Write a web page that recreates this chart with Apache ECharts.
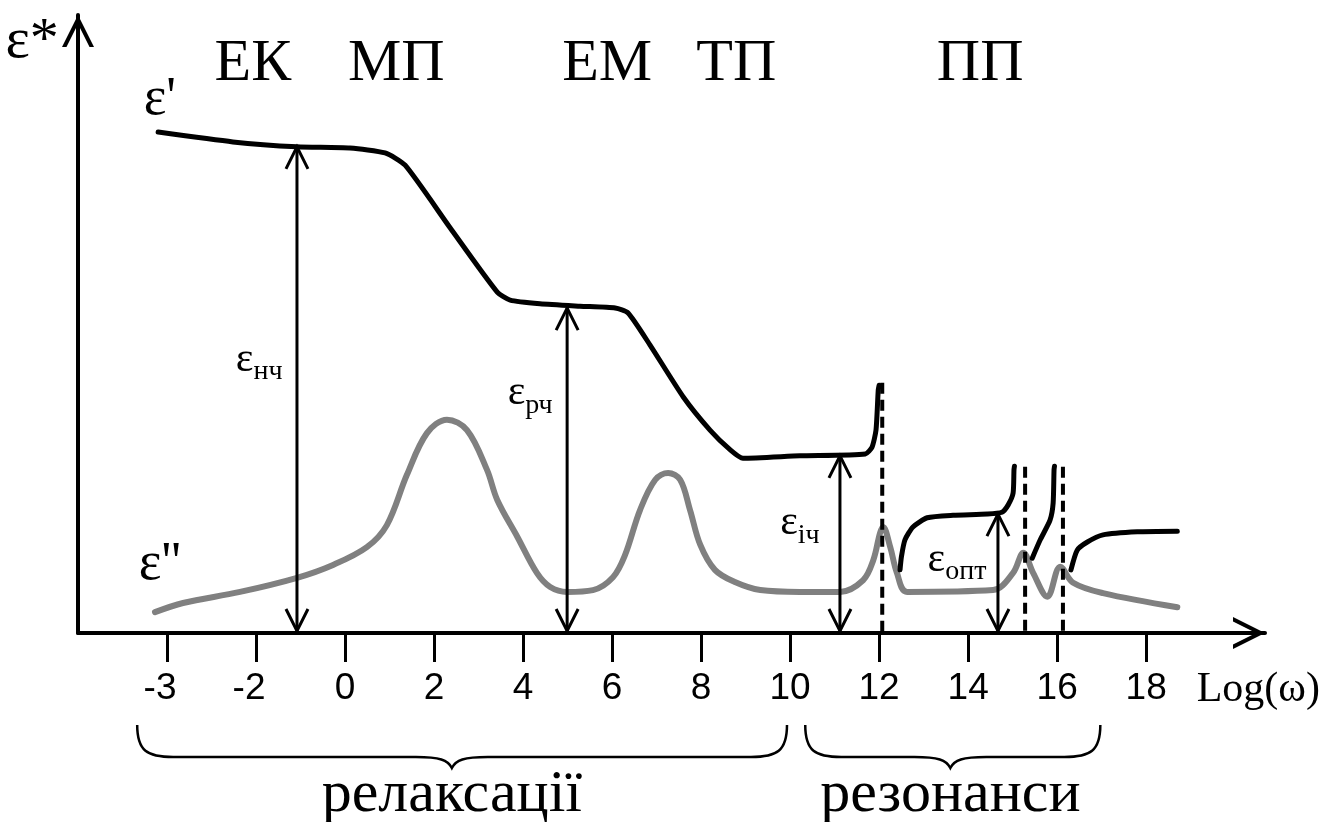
<!DOCTYPE html>
<html>
<head>
<meta charset="utf-8">
<script src="https://cdn.jsdelivr.net/npm/echarts@6/dist/echarts.min.js"></script>
<style>
  html, body { margin: 0; padding: 0; background: #fff; }
  #chart { width: 1340px; height: 822px; }
</style>
</head>
<body>
<div id="chart"></div>
<script>
// Axis ticks: positions on the Log(ω) scale and the text printed under them
const tickValues = [-4, -2, 0, 2, 4, 6, 8, 10, 12, 14, 16, 18];
const tickLabels = ['-3', '-2', '0', '2', '4', '6', '8', '10', '12', '14', '16', '18'];

// ε' (real part): relaxation steps, then the resonance branches
const epsRealMain = [
  [-4.20, 81.7], [-2.52, 80.1], [-1.08, 79.3], [0.11, 79.1], [0.90, 78.3], [1.35, 76.3],
  [2.36, 66.1], [3.42, 55.6], [3.71, 54.3], [4.38, 53.7], [5.28, 53.3], [6.07, 53.0],
  [6.36, 52.2], [6.85, 47.0], [7.60, 38.5], [8.20, 33.1], [8.65, 29.9], [8.94, 28.5],
  [10.22, 28.9], [11.69, 29.2], [11.84, 30.3], [11.93, 33.1], [11.98, 39.6], [12.00, 40.4]
];
const epsRealRes1 = [
  [12.47, 10.3], [12.50, 12.4], [12.58, 15.2], [12.76, 17.3], [13.08, 18.8], [13.66, 19.2],
  [14.43, 19.4], [14.76, 19.7], [14.90, 20.9], [15.01, 22.8], [15.03, 26.6], [15.04, 27.2]
];
const epsRealRes2 = [
  [15.44, 12.2], [15.62, 15.2], [15.84, 18.4], [15.91, 21.2], [15.93, 26.6], [15.94, 27.2]
];
const epsRealTail = [
  [16.31, 10.3], [16.45, 13.5], [16.67, 14.8], [17.03, 16.0], [17.80, 16.5], [18.70, 16.6]
];

// ε'' (imaginary part): loss peaks
const epsImag = [
  [-4.27, 3.4], [-3.64, 4.9], [-2.36, 6.7], [-1.08, 9.0], [-0.27, 11.1], [0.49, 14.0],
  [0.94, 17.6], [1.39, 25.8], [1.84, 32.6], [2.29, 34.8], [2.74, 33.1], [3.19, 26.6],
  [3.42, 21.7], [3.87, 15.7], [4.31, 9.8], [4.61, 7.5], [4.99, 6.7], [5.57, 7.0],
  [6.02, 9.1], [6.29, 12.7], [6.63, 20.1], [6.97, 25.0], [7.26, 26.1], [7.53, 25.0],
  [7.75, 20.1], [7.98, 14.4], [8.31, 10.3], [8.76, 8.3], [9.33, 7.0], [10.22, 6.7],
  [11.12, 6.7], [11.64, 8.6], [11.87, 11.9], [12.02, 16.3], [12.09, 17.3], [12.25, 14.0],
  [12.40, 9.8], [12.63, 6.7], [14.56, 7.0], [15.01, 9.8], [15.24, 13.1], [15.46, 9.8],
  [15.78, 5.9], [16.07, 10.8], [16.36, 8.2], [17.03, 6.5], [18.70, 4.2]
];

// Double-headed arrows showing ε levels (x position, level)
const arrowX = [-1.08, 4.99, 11.12, 14.67];
const arrowTop = [79.3, 53.0, 28.9, 19.4];

// Resonance frequencies (dashed verticals)
const dashX = [12.07, 15.28, 16.13];
const dashTop = [40.8, 27.1, 27.1];

// Braces grouping the ranges under the axis
const braceStart = [-4.67, 10.34];
const braceEnd = [9.93, 16.97];
const braceTip = [2.40, 13.6];
const braceLabels = ['релаксації', 'резонанси'];

// Text annotations placed in data coordinates
const annoTexts = ['ε*', "ε'", "ε''", 'ЕК', 'МП', 'ЕМ', 'ТП', 'ПП',
  '{e|ε}{s|нч}', '{e|ε}{s|рч}', '{e|ε}{s|іч}', '{e|ε}{s|опт}', 'Log(ω)'];
const annoX = [-7.03, -4.16, -4.16, -2.07, 1.15, 5.89, 8.79, 14.27, -1.93, 4.16, 10.22, 13.75, 20.52];
const annoY = [96.4, 86.9, 11.1, 92.8, 92.8, 92.8, 92.8, 92.8, 43.7, 38.3, 17.1, 11.1, -9.3];
const annoKind = ['axis', 'curve', 'curve', 'region', 'region', 'region', 'region', 'region',
  'sub', 'sub', 'sub', 'sub', 'name'];

const SERIF = '"Liberation Serif", "Times New Roman", serif';
const SANS = '"Liberation Sans", Arial, sans-serif';

// open chevron used as the axis arrow head (tip points up before rotation)
const CHEVRON = 'path://M50 0 L100 100 L86 100 L50 28 L14 100 L0 100 Z';

const kindStyle = {
  axis: { fontSize: 58 },
  curve: { fontSize: 54 },
  region: { fontSize: 60 },
  name: { fontSize: 42 },
  sub: {
    fontSize: 42,
    rich: {
      e: { fontSize: 42, fontFamily: SERIF, lineHeight: 42, verticalAlign: 'bottom', padding: [0, 0, 5, 0] },
      s: { fontSize: 28, fontFamily: SERIF, lineHeight: 28, verticalAlign: 'bottom' }
    }
  }
};

const lineSeries = (name, data, color, width, smooth, z) => ({
  name, type: 'line', data, showSymbol: false, smooth, z,
  lineStyle: { color, width, cap: 'round', join: 'round' },
  emphasis: { disabled: true }
});

const chart = echarts.init(document.getElementById('chart'), null, { renderer: 'canvas' });

chart.setOption({
  animation: false,
  backgroundColor: '#fff',
  grid: { left: 78, right: 75, top: 15, bottom: 189 },
  xAxis: {
    type: 'value', min: -6, max: 20.67, interval: 2,
    axisLine: {
      show: true, onZero: false,
      symbol: ['none', CHEVRON], symbolSize: [32, 32], symbolOffset: [0, -16],
      lineStyle: { color: '#000', width: 4 }
    },
    axisTick: { show: true, customValues: tickValues, length: 29, lineStyle: { color: '#000', width: 3 } },
    axisLabel: {
      customValues: tickValues, margin: 37, color: '#000', fontSize: 37, fontFamily: SANS,
      formatter: v => {
        const s = tickLabels[tickValues.indexOf(v)];
        return s.startsWith('-') ? '{neg|' + s + '}' : s;
      },
      rich: { neg: { fontSize: 37, fontFamily: SANS, color: '#000', padding: [0, 14, 0, 0] } }
    },
    splitLine: { show: false }
  },
  yAxis: {
    type: 'value', min: 0, max: 100.8,
    axisLine: {
      show: true, onZero: false,
      symbol: ['none', CHEVRON], symbolSize: [32, 32], symbolOffset: [0, -16],
      lineStyle: { color: '#000', width: 4 }
    },
    axisTick: { show: false },
    axisLabel: { show: false },
    splitLine: { show: false }
  },
  series: [
    lineSeries("ε''", epsImag, '#808080', 6, 0.35, 2),
    lineSeries("ε'", epsRealMain, '#000', 5, 0.2, 3),
    lineSeries("ε' res1", epsRealRes1, '#000', 5, 0.2, 3),
    lineSeries("ε' res2", epsRealRes2, '#000', 5, 0.2, 3),
    lineSeries("ε' tail", epsRealTail, '#000', 5, 0.2, 3),
    {
      // level arrows
      type: 'custom', z: 4,
      data: arrowX.map((x, i) => [x, arrowTop[i]]),
      renderItem: (params, api) => {
        const top = api.coord([api.value(0), api.value(1)]);
        const bot = api.coord([api.value(0), 0]);
        const hw = 11, hl = 22;
        const st = { stroke: '#000', lineWidth: 3, fill: null };
        return {
          type: 'group',
          children: [
            { type: 'line', shape: { x1: top[0], y1: top[1], x2: bot[0], y2: bot[1] - 2 }, style: st },
            { type: 'polyline', shape: { points: [[top[0] - hw, top[1] + hl], [top[0], top[1]], [top[0] + hw, top[1] + hl]] }, style: st },
            { type: 'polyline', shape: { points: [[bot[0] - hw, bot[1] - 2 - hl], [bot[0], bot[1] - 2], [bot[0] + hw, bot[1] - 2 - hl]] }, style: st }
          ]
        };
      }
    },
    {
      // resonance markers
      type: 'custom', z: 5,
      data: dashX.map((x, i) => [x, dashTop[i]]),
      renderItem: (params, api) => {
        const top = api.coord([api.value(0), api.value(1)]);
        const bot = api.coord([api.value(0), 0]);
        return {
          type: 'line',
          shape: { x1: top[0], y1: top[1], x2: bot[0], y2: bot[1] },
          style: { stroke: '#000', lineWidth: 4, lineDash: [11, 6] }
        };
      }
    },
    {
      // braces under the axis with their captions
      type: 'custom', z: 5,
      data: braceStart.map((x, i) => [x, 0, braceEnd[i], braceTip[i]]),
      renderItem: (params, api) => {
        const i = params.dataIndex;
        const a = api.coord([api.value(0), 0]);
        const b = api.coord([api.value(2), 0]);
        const m = api.coord([api.value(3), 0]);
        const x0 = a[0], x1 = b[0], xm = m[0];
        const yT = a[1] + 92, yL = a[1] + 124, yTip = a[1] + 135;
        const r = 36;
        const path =
          'M' + x0 + ' ' + yT +
          ' C' + x0 + ' ' + (yT + 26) + ' ' + (x0 + 10) + ' ' + yL + ' ' + (x0 + r) + ' ' + yL +
          ' L' + (xm - r) + ' ' + yL +
          ' C' + (xm - 12) + ' ' + yL + ' ' + (xm - 4) + ' ' + (yL + 3) + ' ' + xm + ' ' + yTip +
          ' C' + (xm + 4) + ' ' + (yL + 3) + ' ' + (xm + 12) + ' ' + yL + ' ' + (xm + r) + ' ' + yL +
          ' L' + (x1 - r) + ' ' + yL +
          ' C' + (x1 - 10) + ' ' + yL + ' ' + x1 + ' ' + (yT + 26) + ' ' + x1 + ' ' + yT;
        return {
          type: 'group',
          children: [
            { type: 'path', shape: { pathData: path }, style: { stroke: '#000', lineWidth: 2.5, fill: null } },
            {
              type: 'text', x: xm, y: a[1] + 162,
              style: {
                text: braceLabels[i], fill: '#000', fontSize: 60, fontFamily: SERIF,
                align: 'center', verticalAlign: 'middle'
              }
            }
          ]
        };
      }
    },
    {
      // labels
      type: 'custom', z: 6,
      data: annoX.map((x, i) => [x, annoY[i]]),
      renderItem: (params, api) => {
        const i = params.dataIndex;
        const p = api.coord([api.value(0), api.value(1)]);
        return {
          type: 'text', x: p[0], y: p[1],
          style: Object.assign({
            text: annoTexts[i], fill: '#000', fontFamily: SERIF,
            align: 'center', verticalAlign: 'middle'
          }, kindStyle[annoKind[i]])
        };
      }
    }
  ]
});
</script>
</body>
</html>
